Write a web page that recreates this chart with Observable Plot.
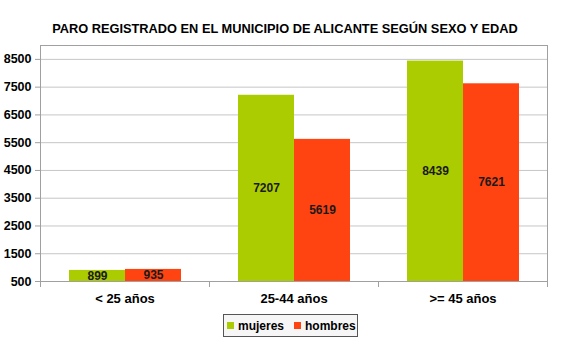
<!DOCTYPE html>
<html>
<head>
<meta charset="utf-8">
<script src="https://cdn.jsdelivr.net/npm/d3@7"></script>
<script src="https://cdn.jsdelivr.net/npm/@observablehq/plot@0.6"></script>
<style>
  html, body { margin: 0; padding: 0; background: white; }
  #wrap { width: 570px; height: 351px; position: relative; font-family: "Liberation Sans", Arial, sans-serif; }
  #title { height: 15px; padding-top: 21px; line-height: 15px; text-align: center; font-weight: bold; font-size: 12.8px; color: #000; }
  #legend { position: relative; height: 41px; }
  #legendBox { position: absolute; left: 223px; top: 4px; width: 133px; height: 21px; border: 1px solid #555; background: #f6f6f6;
    display: flex; align-items: center; font-weight: bold; font-size: 12px; color: #000; }
  .sw { width: 7px; height: 7px; display: inline-block; }
</style>
</head>
<body>
<div id="wrap">
  <div id="title"></div>
  <div id="chart"></div>
  <div id="legend"><div id="legendBox"></div></div>
</div>
<script>
const titulo = "PARO REGISTRADO EN EL MUNICIPIO DE ALICANTE SEGÚN SEXO Y EDAD";
const categorias = ["< 25 años", "25-44 años", ">= 45 años"];
const series = ["mujeres", "hombres"];
const colores = ["#aacc00", "#ff4411"];
const mujeres = [899, 7207, 8439];
const hombres = [935, 5619, 7621];
const yTicks = [500, 1500, 2500, 3500, 4500, 5500, 6500, 7500, 8500];
const base = 500;
const yMax = 9000;

document.getElementById("title").textContent = titulo;

const data = categorias.flatMap((c, i) => [
  {categoria: c, sexo: series[0], valor: mujeres[i]},
  {categoria: c, sexo: series[1], valor: hombres[i]}
]);

const gridColor = "#c6c6c6";
const frameColor = "#a0a0a0";

const chart = Plot.plot({
  width: 570,
  height: 274,
  marginTop: 9,
  marginBottom: 29,
  marginLeft: 40,
  marginRight: 23,
  style: {fontFamily: "Liberation Sans, Arial, sans-serif", background: "white", overflow: "visible"},
  fx: {domain: categorias, padding: 0, label: null},
  x: {domain: series, paddingInner: 0, paddingOuter: 0.5, axis: null},
  y: {domain: [base, yMax], axis: null},
  color: {domain: series, range: colores},
  marks: [
    Plot.gridY(yTicks, {stroke: gridColor, strokeOpacity: 1}),
    Plot.frame({anchor: "top", stroke: frameColor}),
    Plot.frame({anchor: "left", stroke: frameColor, fx: () => categorias[0]}),
    Plot.frame({anchor: "right", stroke: frameColor, fx: () => categorias[categorias.length - 1]}),
    Plot.barY(data, {fx: "categoria", x: "sexo", y1: () => base, y2: "valor", fill: "sexo"}),
    Plot.frame({anchor: "bottom", stroke: frameColor}),
    Plot.frame({anchor: "left", stroke: frameColor, insetTop: 236, insetBottom: -5}),
    Plot.frame({anchor: "right", stroke: frameColor, insetTop: 236, insetBottom: -5}),
    Plot.text(data, {fx: "categoria", x: "sexo", y: d => (base + d.valor) / 2, text: d => String(d.valor),
      fontWeight: "bold", fontSize: 12, fill: "#1a1a1a"}),
    Plot.axisY(yTicks, {tickSize: 5, tickPadding: 4, fontSize: 12.5, fontWeight: "bold", stroke: frameColor, fill: "#000",
      label: null, tickFormat: d => String(d)}),
    Plot.axisFx({anchor: "bottom", tickSize: 0, tickPadding: 12, fontSize: 13, fontWeight: "bold", fill: "#000", label: null})
  ]
});
document.getElementById("chart").appendChild(chart);

const box = document.getElementById("legendBox");
series.forEach((s, i) => {
  const sw = document.createElement("span");
  sw.className = "sw";
  sw.style.background = colores[i];
  sw.style.marginLeft = i === 0 ? "3px" : "10px";
  const t = document.createElement("span");
  t.textContent = s;
  t.style.marginLeft = "4px";
  box.appendChild(sw);
  box.appendChild(t);
});
</script>
</body>
</html>
